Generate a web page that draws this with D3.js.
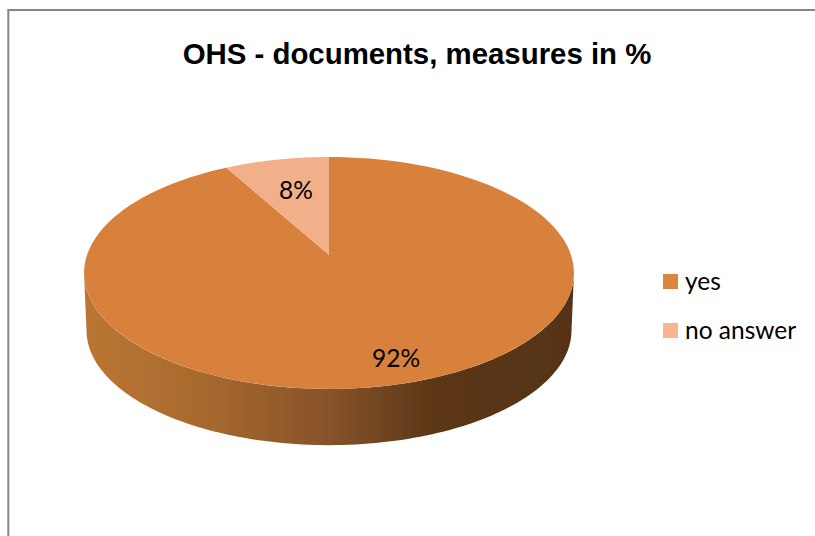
<!DOCTYPE html>
<html><head><meta charset="utf-8">
<script src="https://cdn.jsdelivr.net/npm/d3@7"></script>
<style>html,body{margin:0;padding:0;background:#fff}svg{display:block}</style>
</head><body><div id="c"></div>
<script>
const categories = ["yes", "no answer"];
const values = [92, 8];
const colors = ["#D8813C", "#F2B08A"];
const legendColors = ["#DC853F", "#FBB48F"];
const sideStops = ["#BA7533", "#A96A2E", "#87532A", "#5C3717", "#553318"];
const sideOffsets = [0, 0.23, 0.5, 0.71, 1];
const titleText = "OHS - documents, measures in %";

const W = 815, H = 536;
const svg = d3.select("#c").append("svg").attr("width", W).attr("height", H);
const defs = svg.append("defs");
defs.append("filter").attr("id", "soft").append("feGaussianBlur").attr("stdDeviation", 0.45);
const grad = defs.append("linearGradient").attr("id", "side")
  .attr("gradientUnits", "userSpaceOnUse").attr("x1", 88).attr("x2", 570).attr("y1", 0).attr("y2", 0);
sideOffsets.forEach((o, i) => grad.append("stop").attr("offset", o).attr("stop-color", sideStops[i]));

svg.append("path").attr("d", "M8.3 536V10H815").attr("fill", "none").attr("stroke", "#868686").attr("stroke-width", 2);

svg.append("text").attr("x", 417).attr("y", 64).attr("text-anchor", "middle")
  .attr("font-family", "Liberation Sans").attr("font-weight", 700).attr("font-size", 29.4).attr("fill", "#000").text(titleText);

// perspective projection of a disc: centre (329,255), tilted
const k = 0.155, X = 242, Y = 113.2, cx = 329, cy = 255;
const proj = (a, ox = 0, oy = 0, s = 1) => {
  const w = 1 + k * Math.cos(a);
  return [cx + ox + s * X * Math.sin(a) / w, cy + oy - s * Y * Math.cos(a) / w];
};
const pie = d3.pie().sort(null)(values);
const arcPts = (a0, a1, ox, oy, s) => d3.range(0, 121).map(i => proj(a0 + (a1 - a0) * i / 120, ox, oy, s));
const line = d3.line();
const g = svg.append("g").attr("filter", "url(#soft)");

// wall: between the widest points of the top rim and of the lower rim
const bo = [0, 57.5, 0.99];
const wide = Math.PI - Math.acos(k);
const front = arcPts(wide, 2 * Math.PI - wide);
const back = arcPts(2 * Math.PI - wide, wide, ...bo);
g.append("path").attr("d", line(front.concat(back)) + "Z").attr("fill", "url(#side)");

// top faces: slice angles run clockwise from 12 o'clock
g.selectAll("path.top").data(pie).join("path").attr("class", "top")
  .attr("d", d => line([[cx, cy]].concat(arcPts(d.startAngle, d.endAngle))) + "Z")
  .attr("fill", (d, i) => colors[i]);

// labels
const lab = svg.append("g").attr("font-family", "Lato, Carlito").attr("font-size", 24.5).attr("fill", "#000");
const labelPos = [[396, 367], [296, 199]];
lab.selectAll("text").data(pie).join("text").attr("text-anchor", "middle")
  .attr("x", (d, i) => labelPos[i][0]).attr("y", (d, i) => labelPos[i][1])
  .text(d => d.value + "%");

// legend
const leg = svg.append("g").attr("font-family", "Lato, Carlito").attr("font-size", 24.5).attr("fill", "#000");
const legY = d3.scalePoint().domain(categories).range([281.5, 330.5]);
categories.forEach((c, i) => {
  leg.append("rect").attr("x", 663).attr("y", legY(c) - 7.5).attr("width", 15).attr("height", 15).attr("fill", legendColors[i]);
  leg.append("text").attr("x", 685).attr("y", legY(c) + 8.5).text(c);
});
</script></body></html>
